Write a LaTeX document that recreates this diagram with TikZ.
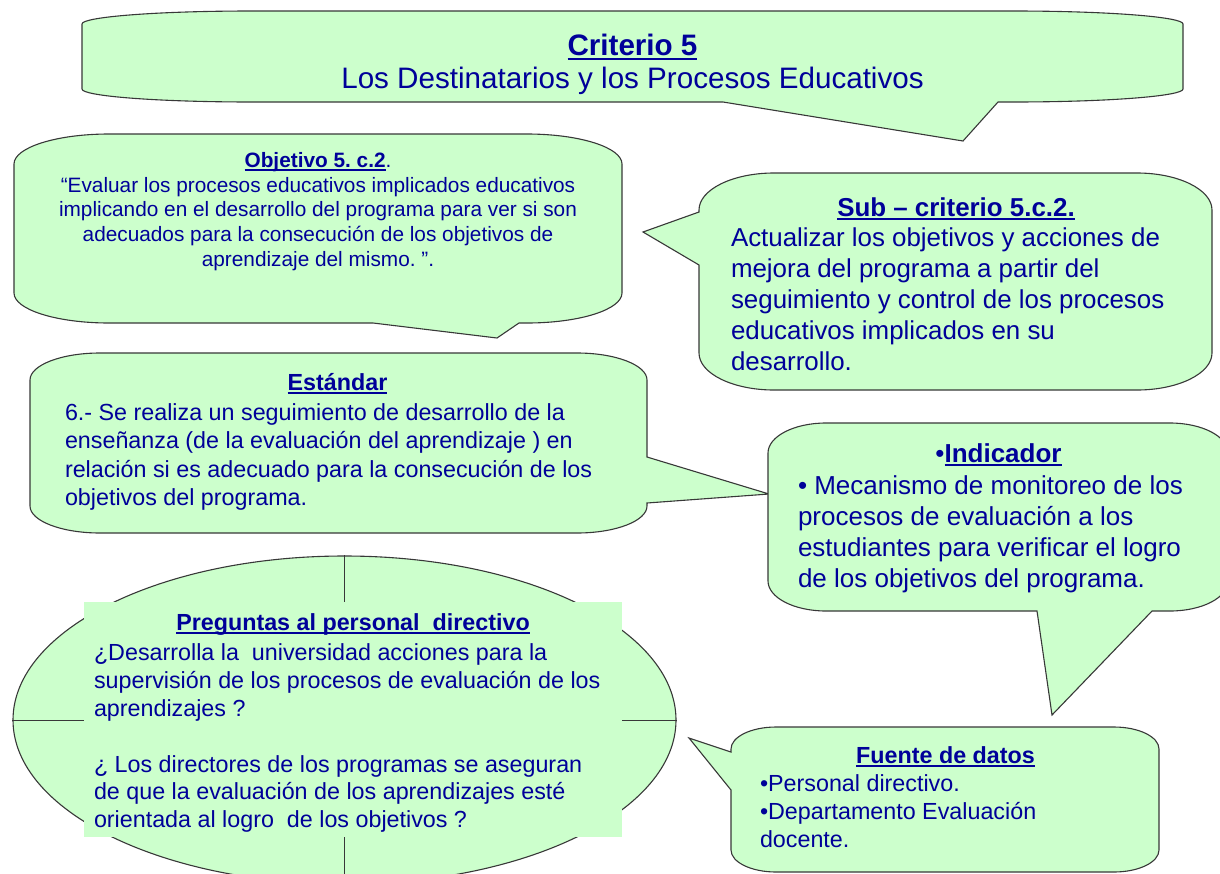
\documentclass[tikz,border=0pt]{standalone}
\usepackage{fontspec}
\setmainfont{Liberation Sans}
\usetikzlibrary{shapes.geometric}
\definecolor{mint}{HTML}{CCFFCC}
\definecolor{inkblue}{HTML}{000099}
\frenchspacing
\newcommand\fsz[2]{\fontsize{#1}{#2}\selectfont}
\newcommand\hd[1]{{\bfseries\setbox0\hbox{#1}\rlap{\rule[-.15em]{\wd0}{.075em}}\box0}}
\tikzset{bubble/.style={draw=black!78,fill=mint,line width=1.1pt,line join=miter},
  crossline/.style={draw=black!78,line width=1pt},
  txt/.style={text=inkblue,inner sep=0pt,outer sep=0pt},
  headtxt/.style={txt,anchor=north,align=center},
  bodytxt/.style={txt,anchor=north west,align=left}}
\begin{document}
\begin{tikzpicture}[x=1pt,y=-1pt]
\clip (0,0) rectangle (1220,873);
\draw[bubble] (82,24) arc (180:270:170 and 13) -- (1013,11) arc (270:360:170 and 13) -- (1183,89) arc (0:90:170 and 13) -- (998,102) -- (963,141) -- (723,102) -- (252,102) arc (90:180:170 and 13) -- cycle;
\draw[bubble] (14,164) arc (180:270:95 and 30) -- (527,134) arc (270:360:95 and 30) -- (622,293) arc (0:90:95 and 30) -- (519,323) -- (497,338) -- (373,323) -- (109,323) arc (90:180:95 and 30) -- cycle;
\draw[bubble] (699,210) arc (180:270:75 and 37) -- (1137,173) arc (270:360:75 and 37) -- (1212,353) arc (0:90:75 and 37) -- (774,390) arc (90:180:75 and 37) -- (699,265) -- (643,232) -- (699,212) -- cycle;
\draw[bubble] (30,380) arc (180:270:70 and 27) -- (577,353) arc (270:360:70 and 27) -- (647,457) -- (769,494) -- (647,503) -- (647,506) arc (0:90:70 and 27) -- (100,533) arc (90:180:70 and 27) -- cycle;
\draw[bubble] (768,453) arc (180:270:58 and 30) -- (1170,423) arc (270:360:58 and 30) -- (1228,581) arc (0:90:58 and 30) -- (1152,611) -- (1052,715) -- (1037,611) -- (826,611) arc (90:180:58 and 30) -- cycle;
\draw[bubble] (731,749) arc (180:270:45 and 22) -- (1114,727) arc (270:360:45 and 22) -- (1159,850) arc (0:90:45 and 22) -- (776,872) arc (90:180:45 and 22) -- (731,790) -- (689,738) -- (731,752) -- cycle;
\node[bubble,ellipse,minimum width=663pt,minimum height=328pt,inner sep=0pt] (asks) at (344.5,720) {};
\draw[crossline] (asks.north) -- (asks.south);
\draw[crossline] (asks.west) -- (asks.east);
\node[fill=mint,minimum width=538pt,minimum height=235pt,inner sep=0pt] (askspanel) at (353,719.2) {};
\node[headtxt,font={\fsz{29.6}{33}}] (criterio) at (632.5,32.6) {\strut\hd{Criterio 5}\\Los Destinatarios y los Procesos Educativos};
\node[headtxt,font={\fsz{20.8}{24.7}}] (objetivo) at (318,150.2) {\strut\hd{Objetivo 5. c.2}.\\“Evaluar los procesos educativos implicados educativos\\implicando en el desarrollo del programa para ver si son\\adecuados para la consecución de los objetivos de\\aprendizaje del mismo. ”.};
\node[headtxt,font={\fsz{25.9}{31}}] (subhead) at (956,194.6) {\strut\hd{Sub – criterio 5.c.2.}};
\node[bodytxt,font={\fsz{25.9}{31}}] (subbody) at (731,224.6) {\strut Actualizar los objetivos y acciones de\\mejora del programa a partir del\\seguimiento y control de los procesos\\educativos implicados en su\\desarrollo.};
\node[headtxt,font={\fsz{23.3}{28.5}}] (stdhead) at (337.5,370.1) {\strut\hd{Estándar}};
\node[bodytxt,font={\fsz{23.3}{28.5}}] (stdbody) at (65,400.1) {\strut 6.- Se realiza un seguimiento de desarrollo de la\\enseñanza (de la evaluación del aprendizaje ) en\\relación si es adecuado para la consecución de los\\objetivos del programa.};
\node[headtxt,font={\fsz{26}{31}}] (indhead) at (998.5,440.7) {\strut•\hd{Indicador}};
\node[bodytxt,font={\fsz{26}{31}}] (indbody) at (798,472.7) {\strut• Mecanismo de monitoreo de los\\procesos de evaluación a los\\estudiantes para verificar el logro\\de los objetivos del programa.};
\node[headtxt,font={\fsz{23.3}{27.9}}] (askhead) at (353,610.6) {\strut\hd{Preguntas al personal\ \ directivo}};
\node[bodytxt,font={\fsz{23.3}{27.9}}] (askbody) at (94,640.9) {\strut¿Desarrolla la\ \ universidad acciones para la\\supervisión de los procesos de evaluación de los\\aprendizajes ?\\[27.9pt]¿ Los directores de los programas se aseguran\\de que la evaluación de los aprendizajes esté\\orientada al logro\ \ de los objetivos ?};
\node[headtxt,font={\fsz{23.3}{28}}] (srchead) at (945.5,743.8) {\strut\hd{Fuente de datos}};
\node[bodytxt,font={\fsz{23.3}{28}}] (srcbody) at (760,772.1) {\strut•Personal directivo.\\•Departamento Evaluación\\docente.};
\end{tikzpicture}
\end{document}
